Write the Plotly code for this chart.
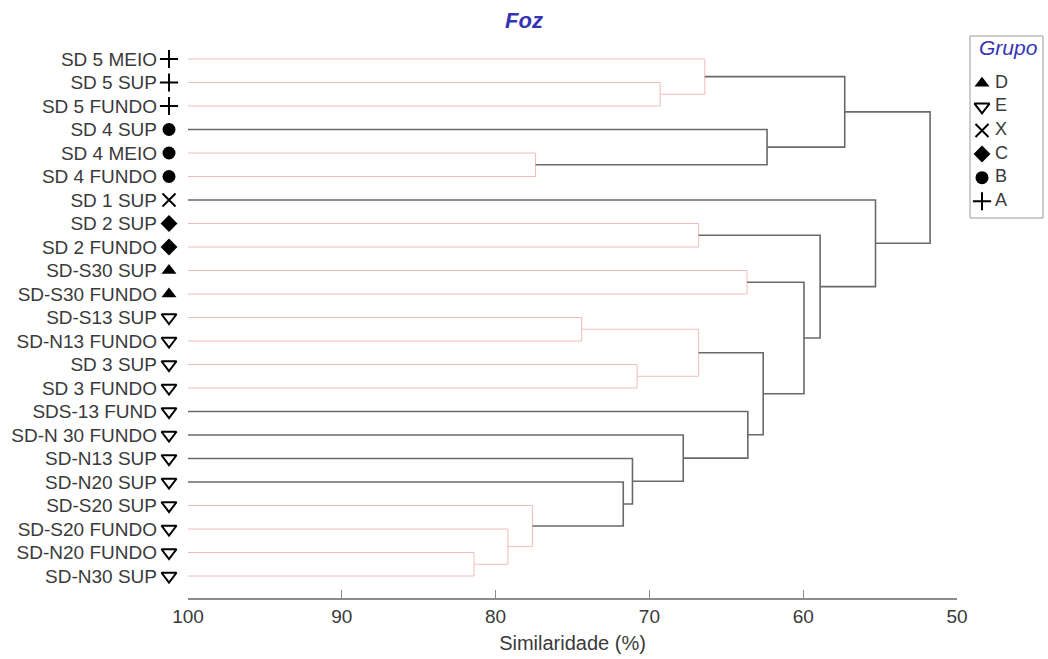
import plotly.graph_objects as go

# ---------------- data ----------------
leaf_labels = [
    "SD 5 MEIO", "SD 5 SUP", "SD 5 FUNDO", "SD 4 SUP", "SD 4 MEIO", "SD 4 FUNDO",
    "SD 1 SUP", "SD 2 SUP", "SD 2 FUNDO", "SD-S30 SUP", "SD-S30 FUNDO",
    "SD-S13 SUP", "SD-N13 FUNDO", "SD 3 SUP", "SD 3 FUNDO", "SDS-13 FUND",
    "SD-N 30 FUNDO", "SD-N13 SUP", "SD-N20 SUP", "SD-S20 SUP", "SD-S20 FUNDO",
    "SD-N20 FUNDO", "SD-N30 SUP",
]
leaf_groups = [
    "A", "A", "A", "B", "B", "B", "X", "C", "C", "D", "D",
    "E", "E", "E", "E", "E", "E", "E", "E", "E", "E", "E", "E",
]

# merges: node ids 0..22 are leaves, each merge creates node 23, 24, ...
merge_a = [1, 0, 4, 3, 24, 7, 9, 11, 13, 30, 21, 20, 19, 18, 17, 16, 15, 32, 29, 28, 6, 27]
merge_b = [2, 23, 5, 25, 26, 8, 10, 12, 14, 31, 22, 33, 34, 35, 36, 37, 38, 39, 40, 41, 42, 43]
merge_similarity = [69.3, 66.4, 77.4, 62.35, 57.3, 66.8, 63.65, 74.4, 70.8, 66.8,
                    81.4, 79.2, 77.6, 71.7, 71.1, 67.8, 63.6, 62.6, 59.95, 58.9,
                    55.3, 51.75]
merge_significant = [False, False, False, True, True, False, False, False, False, False,
                     False, False, False, True, True, True, True, True, True, True,
                     True, True]

legend_groups = ["D", "E", "X", "C", "B", "A"]
group_symbols = ["triangle-up", "triangle-down-open", "x-thin", "diamond", "circle", "cross-thin"]

x_ticks = [100, 90, 80, 70, 60, 50]

# ---------------- styles ----------------
FONT = "Liberation Sans, Arial, sans-serif"
TXT = "#3a3a3a"
BLUE = "#3434b4"
PINK = "rgb(240,188,188)"
GRAY = "rgb(105,105,105)"

W, H = 1048, 659
ML, MR, MT, MB = 150, 5, 30, 61
PW, PH = W - ML - MR, H - MT - MB


def px_x(p):  # pixel -> paper x
    return (p - ML) / PW


def px_y(p):  # pixel -> paper y
    return (H - MB - p) / PH


sym_of = dict(zip(legend_groups, group_symbols))


def sym_line(s):
    return 2 if s in ("triangle-down-open", "x-thin", "cross-thin") else 0


# ---------------- build dendrogram segments ----------------
n = len(leaf_labels)
node_y = {i: float(i) for i in range(n)}
node_h = {i: 100.0 for i in range(n)}

seg = {True: ([], []), False: ([], [])}
for k, (a, b, h, sig) in enumerate(zip(merge_a, merge_b, merge_similarity, merge_significant)):
    nid = n + k
    xs, ys = seg[sig]
    xs += [node_h[a], h, h, node_h[b], None]
    ys += [node_y[a], node_y[a], node_y[b], node_y[b], None]
    node_y[nid] = (node_y[a] + node_y[b]) / 2
    node_h[nid] = h

fig = go.Figure()
fig.add_trace(go.Scatter(x=seg[False][0], y=seg[False][1], mode="lines",
                         line=dict(color=PINK, width=1), showlegend=False, hoverinfo="skip"))
fig.add_trace(go.Scatter(x=seg[True][0], y=seg[True][1], mode="lines",
                         line=dict(color=GRAY, width=1.6), showlegend=False, hoverinfo="skip"))

# group markers beside the leaf labels (own narrow x axis)
leaf_syms = [sym_of[g] for g in leaf_groups]
fig.add_trace(go.Scatter(
    x=[0.5] * n, y=list(range(n)), xaxis="x2", yaxis="y", mode="markers",
    marker=dict(symbol=leaf_syms, size=13, color="black",
                line=dict(color="black", width=[sym_line(s) for s in leaf_syms])),
    showlegend=False, hoverinfo="skip", cliponaxis=False))

# manual legend
leg_idx = list(range(len(legend_groups)))
fig.add_trace(go.Scatter(
    x=[12] * len(legend_groups), y=leg_idx, xaxis="x3", yaxis="y3", mode="markers",
    marker=dict(symbol=group_symbols, size=13, color="black",
                line=dict(color="black", width=[sym_line(s) for s in group_symbols])),
    showlegend=False, hoverinfo="skip", cliponaxis=False))
fig.add_trace(go.Scatter(
    x=[25] * len(legend_groups), y=leg_idx, xaxis="x3", yaxis="y3", mode="text",
    text=legend_groups, textposition="middle right",
    textfont=dict(family=FONT, size=18, color=TXT),
    showlegend=False, hoverinfo="skip", cliponaxis=False))

fig.add_shape(type="rect", xref="x3 domain", yref="y3 domain", x0=0, x1=1, y0=0, y1=1,
              line=dict(color="#999999", width=1), fillcolor="rgba(0,0,0,0)")
fig.add_annotation(text="Grupo", xref="x3", yref="y3", x=38.5, y=-1.5,
                   showarrow=False, xanchor="center", yanchor="middle",
                   font=dict(family=FONT, size=21, color=BLUE, style="italic"))

fig.update_layout(
    width=W, height=H,
    margin=dict(l=ML, r=MR, t=MT, b=MB, autoexpand=False),
    paper_bgcolor="white", plot_bgcolor="white",
    font=dict(family=FONT, color=TXT, size=19),
    title=dict(text="Foz", x=0.5, xref="container", xanchor="center",
               y=1 - 20 / H, yref="container", yanchor="middle",
               font=dict(family=FONT, size=22, color=BLUE, style="italic", weight="bold")),
    showlegend=False,
    xaxis=dict(
        domain=[px_x(188), px_x(957)], anchor="y",
        range=[100, 50], tickvals=x_ticks, ticktext=[str(t) for t in x_ticks],
        showline=True, linecolor="rgb(140,140,140)", linewidth=1.5,
        ticks="inside", ticklen=8, tickwidth=1.2, tickcolor="rgb(140,140,140)",
        showgrid=False, zeroline=False, automargin=False,
        tickfont=dict(family=FONT, size=19, color=TXT),
        title=dict(text="Similaridade (%)", font=dict(family=FONT, size=20, color=TXT), standoff=10),
    ),
    yaxis=dict(
        domain=[0, 1], anchor="x",
        range=[n - 1 + 0.936, -(59 - MT) / 23.5], tickvals=list(range(n)), ticktext=leaf_labels,
        showline=False, showgrid=False, zeroline=False, ticks="",
        ticklabelstandoff=30, automargin=False,
        tickfont=dict(family=FONT, size=19, color=TXT),
    ),
    xaxis2=dict(domain=[0, px_x(188)], anchor="y", range=[0, 1], visible=False, fixedrange=True),
    xaxis3=dict(domain=[px_x(970), px_x(1043)], anchor="y3", range=[0, 73], visible=False),
    yaxis3=dict(domain=[px_y(218), px_y(36)], anchor="x3", range=[5.71, -2.0], visible=False),
)

fig.write_html("out.html")
